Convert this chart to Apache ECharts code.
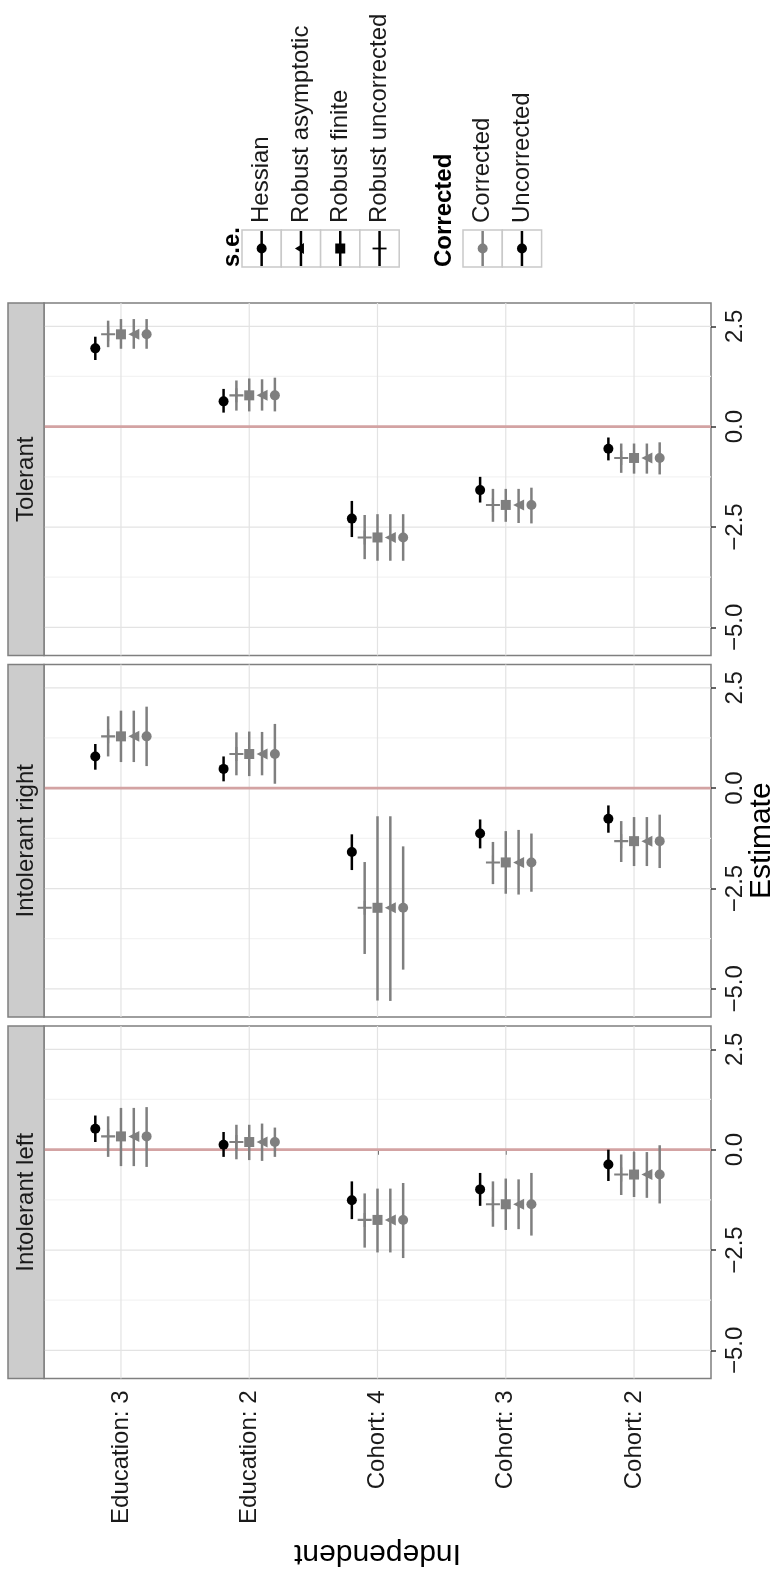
<!DOCTYPE html>
<html>
<head>
<meta charset="utf-8">
<script src="https://cdn.jsdelivr.net/npm/echarts@6/dist/echarts.min.js"></script>
<style>html,body{margin:0;padding:0;background:#fff}#chart{width:782px;height:1575px}</style>
</head>
<body>
<div id="chart"></div>
<script>
// categories left to right, facet panels top to bottom
var categories = ['Education: 3', 'Education: 2', 'Cohort: 4', 'Cohort: 3', 'Cohort: 2'];
var panels = ['Tolerant', 'Intolerant right', 'Intolerant left'];
// dodge order inside a group
var methods = ['Hessian, uncorrected', 'Robust uncorrected', 'Robust finite', 'Robust asymptotic', 'Hessian, corrected'];
var dodge = [-0.2, -0.1, 0, 0.1, 0.2];
var estTicks = [-5, -2.5, 0, 2.5];
var estMinor = [-3.75, -1.25, 1.25];
var seLabels = ['Hessian', 'Robust asymptotic', 'Robust finite', 'Robust uncorrected'];
var corrLabels = ['Corrected', 'Uncorrected'];

// rows = methods, cols = categories
var tolerantEst = [
    [1.95, 0.63, -2.29, -1.58, -0.55],
    [2.30, 0.78, -2.76, -1.95, -0.78],
    [2.30, 0.78, -2.76, -1.95, -0.78],
    [2.30, 0.78, -2.76, -1.95, -0.78],
    [2.30, 0.78, -2.76, -1.95, -0.78]
];
var tolerantLo = [
    [1.66, 0.35, -2.75, -1.89, -0.84],
    [1.98, 0.40, -3.30, -2.37, -1.15],
    [1.94, 0.38, -3.34, -2.37, -1.17],
    [1.94, 0.40, -3.34, -2.40, -1.17],
    [1.94, 0.38, -3.34, -2.41, -1.19]
];
var tolerantHi = [
    [2.24, 0.94, -1.85, -1.25, -0.27],
    [2.64, 1.15, -2.20, -1.55, -0.42],
    [2.68, 1.20, -2.18, -1.55, -0.42],
    [2.68, 1.18, -2.18, -1.55, -0.42],
    [2.68, 1.22, -2.18, -1.52, -0.39]
];

var rightEst = [
    [0.79, 0.48, -1.59, -1.13, -0.76],
    [1.29, 0.85, -2.98, -1.85, -1.32],
    [1.29, 0.85, -2.98, -1.85, -1.32],
    [1.29, 0.85, -2.98, -1.85, -1.32],
    [1.29, 0.85, -2.98, -1.85, -1.32]
];
var rightLo = [
    [0.46, 0.17, -2.04, -1.50, -1.11],
    [0.79, 0.32, -4.13, -2.39, -1.84],
    [0.65, 0.30, -5.29, -2.63, -1.94],
    [0.65, 0.32, -5.30, -2.65, -1.94],
    [0.55, 0.11, -4.52, -2.58, -1.99]
];
var rightHi = [
    [1.10, 0.79, -1.15, -0.78, -0.43],
    [1.79, 1.39, -1.84, -1.34, -0.82],
    [1.93, 1.41, -0.70, -1.07, -0.72],
    [1.93, 1.40, -0.70, -1.04, -0.72],
    [2.03, 1.60, -1.45, -1.13, -0.66]
];

var leftEst = [
    [0.52, 0.12, -1.26, -0.99, -0.37],
    [0.33, 0.19, -1.75, -1.36, -0.62],
    [0.33, 0.19, -1.75, -1.36, -0.62],
    [0.33, 0.19, -1.75, -1.36, -0.62],
    [0.33, 0.19, -1.75, -1.36, -0.62]
];
var leftLo = [
    [0.19, -0.18, -1.73, -1.40, -0.78],
    [-0.18, -0.24, -2.44, -1.92, -1.13],
    [-0.41, -0.26, -2.56, -2.00, -1.18],
    [-0.41, -0.28, -2.56, -1.98, -1.20],
    [-0.43, -0.18, -2.70, -2.14, -1.34]
];
var leftHi = [
    [0.85, 0.44, -0.79, -0.58, 0.00],
    [0.83, 0.62, -1.09, -0.79, -0.12],
    [1.04, 0.62, -0.97, -0.72, -0.06],
    [1.04, 0.65, -0.97, -0.74, -0.06],
    [1.06, 0.55, -0.83, -0.58, 0.11]
];

var panelEst = [tolerantEst, rightEst, leftEst];
var panelLo = [tolerantLo, rightLo, leftLo];
var panelHi = [tolerantHi, rightHi, leftHi];

// look
var FONT = '"Liberation Sans", Arial, Helvetica, sans-serif';
var grey = '#7f7f7f';
var plusPath = 'path://M0,5.1L12,5.1L12,6.9L0,6.9Z M5.1,0L6.9,0L6.9,12L5.1,12Z';
var methodColor = ['#000000', grey, grey, grey, grey];
var methodSymbol = ['circle', plusPath, 'rect', 'triangle', 'circle'];
var methodSize = [10, 14, 10, 11, 10];
var methodRotate = [0, 0, 0, 90, 0];

var panelTop = [303, 664.5, 1026];
var panelH = 352.5;
var panelLeft = 44;
var panelW = 667;

var mychart = echarts.init(document.getElementById('chart'), null, {renderer: 'canvas'});

function hline(color, width) {
    return function (params, api) {
        var cs = params.coordSys;
        var y = api.coord([1, api.value(0)])[1];
        return {type: 'line', shape: {x1: cs.x, y1: y, x2: cs.x + cs.width, y2: y},
            style: {stroke: color, lineWidth: width}};
    };
}
function vline(color, width) {
    return function (params, api) {
        var cs = params.coordSys;
        var x = api.coord([api.value(0), 0])[0];
        return {type: 'line', shape: {x1: x, y1: cs.y, x2: x, y2: cs.y + cs.height},
            style: {stroke: color, lineWidth: width}};
    };
}
function errbar(color) {
    return function (params, api) {
        var p1 = api.coord([api.value(0), api.value(1)]);
        var p2 = api.coord([api.value(0), api.value(2)]);
        return {type: 'line', shape: {x1: p1[0], y1: p1[1], x2: p2[0], y2: p2[1]},
            style: {stroke: color, lineWidth: 2.5}};
    };
}

var grids = [], xAxes = [], yAxes = [], series = [];
panels.forEach(function (name, p) {
    var last = p === panels.length - 1;
    grids.push({
        left: panelLeft, top: panelTop[p], width: panelW, height: panelH,
        show: true, borderColor: grey, borderWidth: 1.5, backgroundColor: '#fff',
        containLabel: false, outerBoundsMode: 'none'
    });
    xAxes.push({
        type: 'value', gridIndex: p, min: 0.4, max: 5.6,
        splitLine: {show: false}, axisLine: {show: false},
        axisTick: {show: last, length: 5, lineStyle: {color: '#333', width: 1.5},
            customValues: [1, 2, 3, 4, 5]},
        axisLabel: {show: last, rotate: 90, margin: 12, fontSize: 24, fontFamily: FONT, color: '#1a1a1a',
            customValues: [1, 2, 3, 4, 5],
            formatter: function (v) { return categories[Math.round(v) - 1]; }},
        name: last ? 'Independent' : '', nameLocation: 'middle', nameRotate: 180, nameGap: 160,
        nameMoveOverlap: false,
        nameTextStyle: {fontSize: 30, fontFamily: FONT, color: '#000'}
    });
    yAxes.push({
        type: 'value', gridIndex: p, position: 'right', min: -5.70, max: 3.08,
        splitLine: {show: false}, axisLine: {show: false},
        axisTick: {show: true, length: 5, lineStyle: {color: '#333', width: 1.5}, customValues: estTicks},
        axisLabel: {rotate: 90, margin: 12, fontSize: 24, fontFamily: FONT, color: '#1a1a1a',
            customValues: estTicks,
            formatter: function (v) { return (v < 0 ? '\u2212' : '') + Math.abs(v).toFixed(1); }},
        name: p === 1 ? 'Estimate' : '', nameLocation: 'middle', nameRotate: 90, nameGap: 36,
        nameMoveOverlap: false,
        nameTextStyle: {fontSize: 30, fontFamily: FONT, color: '#000'}
    });

    // background grid
    series.push({type: 'custom', xAxisIndex: p, yAxisIndex: p, z: 1, silent: true,
        renderItem: hline('#f3f3f3', 1.2), data: estMinor.map(function (v) { return [v]; })});
    series.push({type: 'custom', xAxisIndex: p, yAxisIndex: p, z: 1, silent: true,
        renderItem: hline('#e3e3e3', 1.2), data: estTicks.map(function (v) { return [v]; })});
    series.push({type: 'custom', xAxisIndex: p, yAxisIndex: p, z: 1, silent: true,
        renderItem: vline('#e3e3e3', 1.2), data: [[1], [2], [3], [4], [5]]});
    // zero reference line
    series.push({type: 'custom', xAxisIndex: p, yAxisIndex: p, z: 2, silent: true,
        renderItem: hline('#d3a3a3', 2.8), data: [[0]]});

    methods.forEach(function (m, k) {
        var errData = [], ptData = [];
        categories.forEach(function (c, i) {
            var x = i + 1 + dodge[k];
            errData.push([x, panelLo[p][k][i], panelHi[p][k][i]]);
            ptData.push([x, panelEst[p][k][i]]);
        });
        series.push({type: 'custom', name: m, xAxisIndex: p, yAxisIndex: p, z: 3,
            renderItem: errbar(methodColor[k]), data: errData});
        series.push({type: 'scatter', name: m, xAxisIndex: p, yAxisIndex: p, z: 4,
            symbol: methodSymbol[k], symbolSize: methodSize[k], symbolRotate: methodRotate[k],
            itemStyle: {color: methodColor[k], opacity: 1}, data: ptData});
    });
});

// facet strips and the legend (drawn as graphics, the layout is rotated)
var graphics = [];
panels.forEach(function (name, p) {
    graphics.push({type: 'rect', shape: {x: 8, y: panelTop[p], width: panelLeft - 8, height: panelH},
        style: {fill: '#cccccc', stroke: grey, lineWidth: 1.5}, z: 10});
    graphics.push({type: 'text', x: 26, y: panelTop[p] + panelH / 2, rotation: Math.PI / 2, z: 11,
        style: {text: name, fontSize: 24, fontFamily: FONT, fill: '#1a1a1a', align: 'center', verticalAlign: 'middle'}});
});

var keyW = 39.3, keyTop = 230, keyH = 37, keyMid = 248.5;
function keyBox(x0, i, color) {
    var cx = x0 + keyW * i + keyW / 2;
    graphics.push({type: 'rect', shape: {x: x0 + keyW * i, y: keyTop, width: keyW, height: keyH},
        style: {fill: '#fff', stroke: '#c9c9c9', lineWidth: 1.5}, z: 10});
    graphics.push({type: 'line', shape: {x1: cx, y1: keyTop + 1, x2: cx, y2: keyTop + keyH - 1},
        style: {stroke: color, lineWidth: 2.5}, z: 11});
    return cx;
}
function keyLabel(cx, text) {
    graphics.push({type: 'text', x: cx, y: 223, rotation: Math.PI / 2, z: 11,
        style: {text: text, fontSize: 24, fontFamily: FONT, fill: '#1a1a1a', align: 'left', verticalAlign: 'middle'}});
}
graphics.push({type: 'text', x: 232, y: 267, rotation: Math.PI / 2, z: 11,
    style: {text: 's.e.', fontSize: 24, fontWeight: 'bold', fontFamily: FONT, fill: '#000', align: 'left', verticalAlign: 'middle'}});
seLabels.forEach(function (lab, i) {
    var cx = keyBox(242, i, '#000');
    if (i === 0) {
        graphics.push({type: 'circle', shape: {cx: cx, cy: keyMid, r: 5}, style: {fill: '#000'}, z: 12});
    } else if (i === 1) {
        graphics.push({type: 'polygon', shape: {points: [[cx - 6, keyMid], [cx + 3, keyMid - 5.5], [cx + 3, keyMid + 5.5]]},
            style: {fill: '#000'}, z: 12});
    } else if (i === 2) {
        graphics.push({type: 'rect', shape: {x: cx - 5, y: keyMid - 5, width: 10, height: 10}, style: {fill: '#000'}, z: 12});
    } else {
        graphics.push({type: 'line', shape: {x1: cx - 7, y1: keyMid, x2: cx + 7, y2: keyMid},
            style: {stroke: '#000', lineWidth: 1.8}, z: 12});
    }
    keyLabel(cx, lab);
});
graphics.push({type: 'text', x: 444, y: 267, rotation: Math.PI / 2, z: 11,
    style: {text: 'Corrected', fontSize: 24, fontWeight: 'bold', fontFamily: FONT, fill: '#000', align: 'left', verticalAlign: 'middle'}});
corrLabels.forEach(function (lab, i) {
    var col = i === 0 ? grey : '#000';
    var cx = keyBox(463, i, col);
    graphics.push({type: 'circle', shape: {cx: cx, cy: keyMid, r: 5}, style: {fill: col}, z: 12});
    keyLabel(cx, lab);
});

var option = {
    animation: false,
    backgroundColor: '#ffffff',
    grid: grids,
    xAxis: xAxes,
    yAxis: yAxes,
    series: series,
    graphic: {elements: graphics}
};
mychart.setOption(option);
</script>
</body>
</html>
